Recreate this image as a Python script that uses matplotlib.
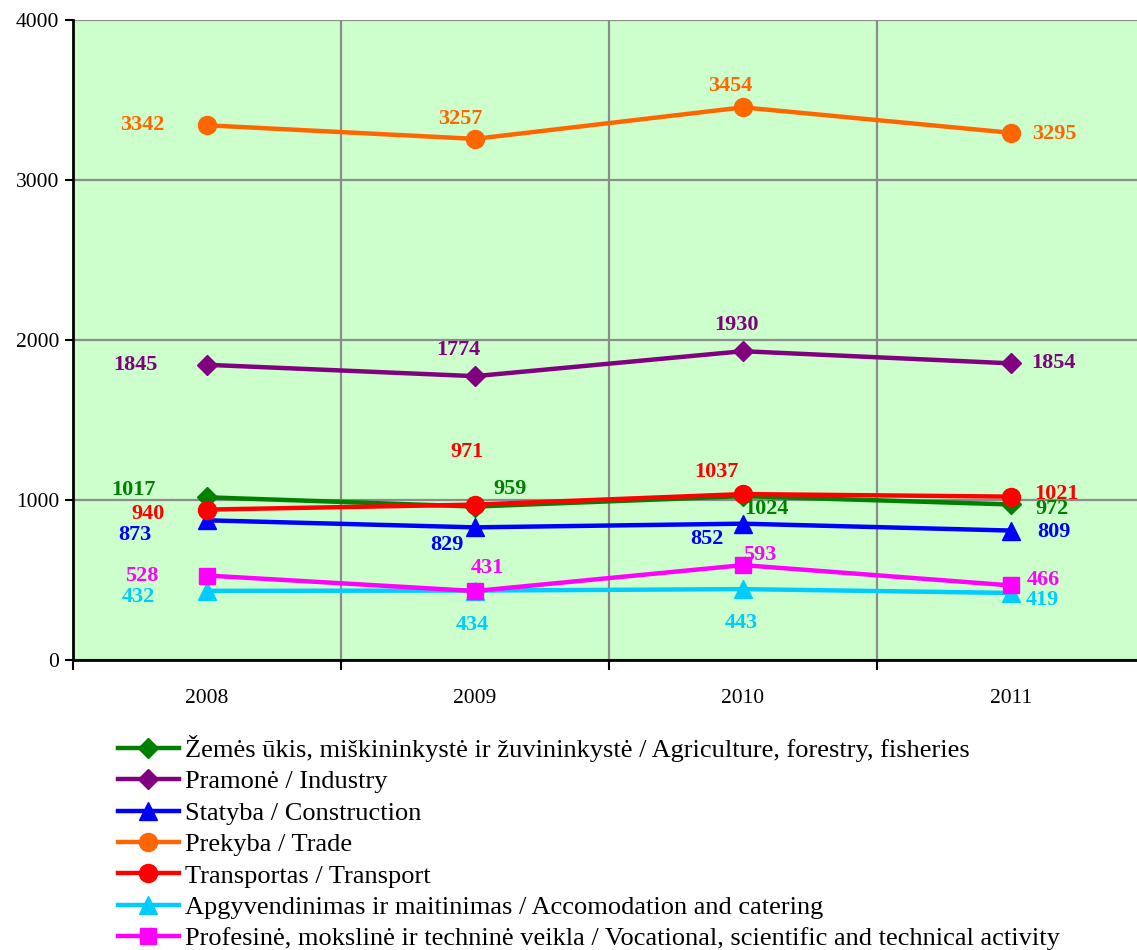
import matplotlib
matplotlib.use("Agg")
from matplotlib import pyplot as plt
from matplotlib.ticker import FixedLocator

plt.rcParams['font.family'] = ['Liberation Serif', 'DejaVu Serif']

years = ["2008", "2009", "2010", "2011"]

agriculture = [1017, 959, 1024, 972]
industry = [1845, 1774, 1930, 1854]
construction = [873, 829, 852, 809]
trade = [3342, 3257, 3454, 3295]
transport = [940, 971, 1037, 1021]
accomodation = [432, 434, 443, 419]
vocational = [528, 431, 593, 466]

names = [
    "Žemės ūkis, miškininkystė ir žuvininkystė / Agriculture, forestry, fisheries",
    "Pramonė / Industry",
    "Statyba / Construction",
    "Prekyba / Trade",
    "Transportas / Transport",
    "Apgyvendinimas ir maitinimas / Accomodation and catering",
    "Profesinė, mokslinė ir techninė veikla / Vocational, scientific and technical activity",
]

# colour, marker, markersize
styles = [
    ("#008000", "D", 10),
    ("#800080", "D", 10),
    ("#0000FF", "^", 13),
    ("#FF6600", "o", 13),
    ("#FF0000", "o", 13),
    ("#00CCFF", "^", 13),
    ("#FF00FF", "s", 11),
]

# value label offsets in pixels, one per point
label_offsets = [
    [(-74, 7), (35, 18), (23, -13), (41, -5)],
    [(-72, 0), (-17, 26), (-6, 26), (42, 0)],
    [(-72, -15), (-28, -18), (-36, -15), (43, -1)],
    [(-65, 0), (-15, 20), (-13, 21), (43, -1)],
    [(-59, -4), (-8, 53), (-27, 22), (46, 3)],
    [(-69, -6), (-3, -34), (-2, -34), (31, -7)],
    [(-65, 0), (12, 23), (17, 10), (32, 5)],
]

series = [agriculture, industry, construction, trade, transport, accomodation, vocational]

fig = plt.figure(figsize=(11.37, 9.5), dpi=100)
ax = fig.add_axes([73 / 1137, 290 / 950, 1072 / 1137, 640 / 950])
ax.set_facecolor("#CCFFCC")

x = list(range(len(years)))
for vals, name, (col, mk, ms), offs in zip(series, names, styles, label_offsets):
    ax.plot(x, vals, color=col, marker=mk, markersize=ms, lw=3.2, label=name,
            markeredgecolor=col, zorder=3)
    for xi, v, (dx, dy) in zip(x, vals, offs):
        ax.annotate(str(v), (xi, v), xytext=(dx, dy), textcoords="offset pixels",
                    ha="center", va="center", color=col, fontsize=16,
                    fontweight="bold", zorder=4)

ax.set_xlim(-0.5, 3.5)
ax.set_ylim(0, 4000)
ax.set_yticks([0, 1000, 2000, 3000, 4000])
ax.xaxis.set_major_locator(FixedLocator([-0.5, 0.5, 1.5, 2.5]))
ax.xaxis.set_minor_locator(FixedLocator(x))
ax.set_xticklabels([], minor=False)
ax.set_xticklabels(years, minor=True)
ax.tick_params(axis="x", which="major", length=7, width=1.5, direction="out")
ax.tick_params(axis="x", which="minor", length=0, labelsize=15.5, pad=21)
ax.tick_params(axis="y", length=6, width=1.5, labelsize=15.5, pad=4)

ax.grid(True, axis="x", which="major", color="#8C8C8C", lw=1.6, zorder=1)
ax.grid(True, axis="y", color="#8C8C8C", lw=1.6, zorder=1)
ax.set_axisbelow(True)
for s in ["top", "right"]:
    ax.spines[s].set_visible(False)
for s in ["left", "bottom"]:
    ax.spines[s].set_linewidth(2)
    ax.spines[s].set_zorder(5)

fig.legend(loc="upper left", bbox_to_anchor=(118 / 1137, 1 - 735 / 950),
           frameon=False, fontsize=19, handlelength=2.3, handletextpad=0.25,
           labelspacing=0.3, borderpad=0, borderaxespad=0)

fig.savefig("out.png", dpi=100)
